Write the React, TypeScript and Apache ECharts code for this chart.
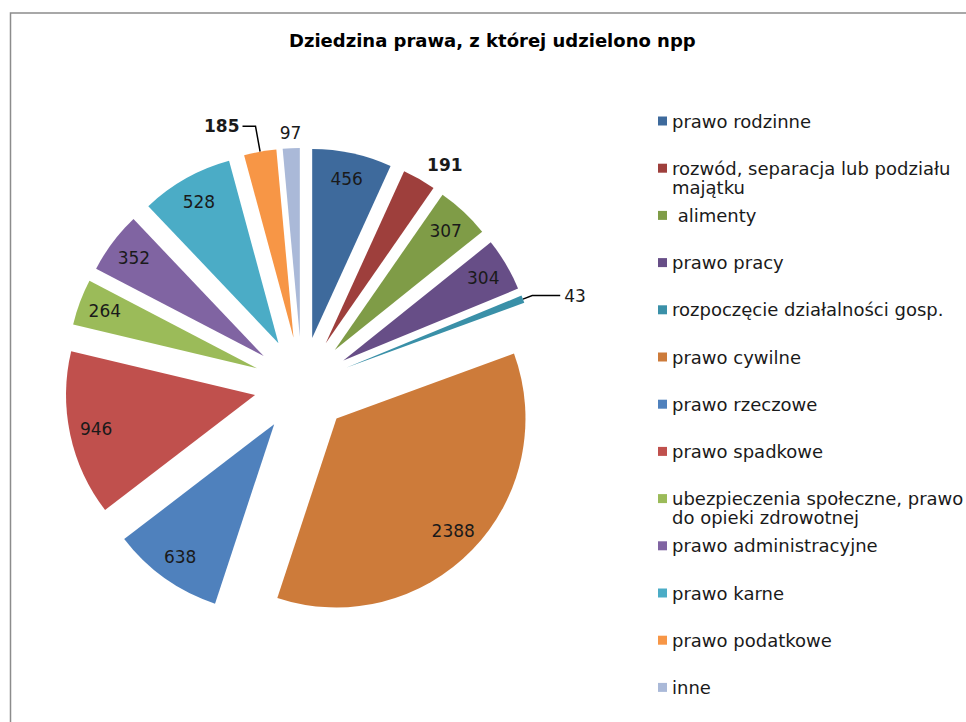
import React, { useEffect, useRef } from "react";
import * as echarts from "echarts";

const TITLE = "Dziedzina prawa, z której udzielono npp";

const categories = [
  "prawo rodzinne",
  "rozwód, separacja lub podziału\nmajątku",
  " alimenty",
  "prawo pracy",
  "rozpoczęcie działalności gosp.",
  "prawo cywilne",
  "prawo rzeczowe",
  "prawo spadkowe",
  "ubezpieczenia społeczne, prawo\ndo opieki zdrowotnej",
  "prawo administracyjne",
  "prawo karne",
  "prawo podatkowe",
  "inne",
];

const values = [456, 191, 307, 304, 43, 2388, 638, 946, 264, 352, 528, 185, 97];

const colors = [
  "#3E6A9C",
  "#9E3F3C",
  "#7F9C47",
  "#674E87",
  "#3A90A8",
  "#CD7B3A",
  "#4F81BD",
  "#C0504D",
  "#9BBB59",
  "#8064A2",
  "#4BACC6",
  "#F79646",
  "#AAB9D8",
];

// labels drawn outside the slices (with or without a leader line)
const outsideLabels: Record<string, any> = {
  "191": { bold: true, line: false, length: 16, length2: 0, distance: 0, lift: 0 },
  "43": { bold: false, line: true, length: 10, length2: 28, distance: 4, lift: 3 },
  "185": { bold: true, line: true, length: 26, length2: 13, distance: 3, lift: 7 },
};
const farLabel = "97";

const FONT = "DejaVu Sans, Verdana, sans-serif";

export default function App() {
  const ref = useRef<HTMLDivElement>(null);

  useEffect(() => {
    if (!ref.current) return;
    const chart = echarts.init(ref.current, null, { renderer: "svg" });

    const center = [302, 385];
    const R = 189;
    const OFFSET = 48;

    const baseSeries = {
      type: "pie",
      center,
      startAngle: 90,
      clockwise: true,
      selectedMode: "multiple",
      selectedOffset: OFFSET,
      avoidLabelOverlap: false,
      emphasis: { disabled: true },
      animation: false,
    };

    const mainData = values.map((v, i) => ({
      name: categories[i],
      value: v,
      selected: true,
      itemStyle: { color: colors[i] },
    }));

    const labelData = values.map((v, i) => {
      const key = String(v);
      const o = outsideLabels[key];
      const item: any = {
        name: categories[i],
        value: v,
        selected: true,
      };
      if (key === farLabel) {
        item.label = { show: false };
      } else if (o) {
        item.label = {
          show: true,
          position: "outside",
          fontWeight: o.bold ? "bold" : "normal",
          distanceToLabelLine: o.distance,
          padding: [0, 0, o.lift * 2, 0],
        };
        item.labelLine = {
          show: o.line,
          length: o.length,
          length2: o.length2,
          lineStyle: { color: "#000", width: 1.5 },
        };
      }
      return item;
    });

    const farData = values.map((v, i) => ({
      name: categories[i],
      value: v,
      selected: true,
      label: { show: String(v) === farLabel },
    }));

    const labelStyle = {
      color: "#1a1a1a",
      fontSize: 17,
      fontFamily: FONT,
      formatter: "{c}",
    };

    const rowY = (i: number) => 121 + i * 47.2;

    const legends = categories.map((name, i) => ({
      data: [name],
      orient: "vertical",
      left: 658,
      top: rowY(i) - 9,
      itemWidth: 9,
      itemHeight: 9,
      icon: "rect",
      itemGap: 0,
      padding: 0,
      selectedMode: false,
      formatter: (n: string) => n.split("\n")[0],
      textStyle: {
        fontFamily: FONT,
        fontSize: 18,
        lineHeight: 18,
        color: "#1a1a1a",
      },
    }));

    const secondLines: any[] = [];
    categories.forEach((name, i) => {
      const parts = name.split("\n");
      if (parts.length > 1) {
        secondLines.push({
          type: "text",
          x: 672,
          y: rowY(i) + 19,
          silent: true,
          style: {
            text: parts[1],
            font: "18px DejaVu Sans, Verdana, sans-serif",
            fill: "#1a1a1a",
            verticalAlign: "middle",
            align: "left",
          },
        });
      }
    });

    chart.setOption({
      animation: false,
      backgroundColor: "#ffffff",
      title: {
        text: TITLE,
        left: 289,
        top: 31,
        padding: 0,
        textStyle: {
          fontFamily: FONT,
          fontWeight: "bold",
          fontSize: 18,
          color: "#000",
        },
      },
      legend: legends,
      graphic: [
        {
          type: "rect",
          shape: { x: 10.5, y: 13, width: 1000, height: 800 },
          style: { fill: "none", stroke: "#8c8c8c", lineWidth: 1.5 },
          silent: true,
        },
        ...secondLines,
      ],
      series: [
        {
          ...baseSeries,
          name: "main",
          radius: R,
          label: { show: false },
          labelLine: { show: false },
          select: { itemStyle: { borderWidth: 0 } },
          data: mainData,
        },
        {
          ...baseSeries,
          name: "labels",
          radius: [130, R],
          silent: true,
          itemStyle: { color: "rgba(0,0,0,0)" },
          select: { itemStyle: { color: "rgba(0,0,0,0)", borderWidth: 0 } },
          label: { show: true, position: "inside", ...labelStyle },
          labelLine: { show: false },
          data: labelData,
        },
        {
          ...baseSeries,
          name: "far",
          radius: [R, 214],
          silent: true,
          itemStyle: { color: "rgba(0,0,0,0)" },
          select: { itemStyle: { color: "rgba(0,0,0,0)", borderWidth: 0 } },
          label: { show: true, position: "inside", ...labelStyle },
          labelLine: { show: false },
          data: farData,
        },
      ],
    });

    return () => chart.dispose();
  }, []);

  return (
    <div
      ref={ref}
      style={{ position: "fixed", left: 0, top: 0, width: 966, height: 722 }}
    />
  );
}
